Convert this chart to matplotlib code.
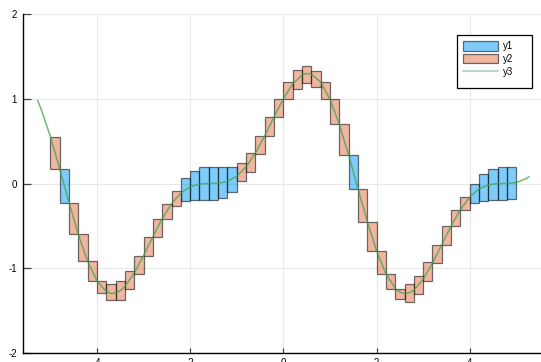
import matplotlib
matplotlib.use("Agg")
import matplotlib.pyplot as plt
from matplotlib.patches import Patch, Rectangle
from matplotlib.lines import Line2D

plt.rcParams['font.family'] = ['Liberation Sans', 'DejaVu Sans']
plt.rcParams['axes.unicode_minus'] = False

# ---- data ----
box_width = 0.2

y1_left = [-4.8, -2.2, -2.0, -1.8, -1.6, -1.4, -1.2, 1.4, 4.0, 4.2, 4.4, 4.6, 4.8]
y1_low = [-0.23, -0.21, -0.20, -0.195, -0.195, -0.17, -0.10, -0.06, -0.23, -0.21, -0.20, -0.20, -0.18]
y1_high = [0.17, 0.06, 0.15, 0.19, 0.20, 0.19, 0.20, 0.34, 0.0, 0.115, 0.17, 0.20, 0.19]

y2_left = [-5.0, -4.6, -4.4, -4.2, -4.0, -3.8, -3.6, -3.4, -3.2, -3.0, -2.8, -2.6, -2.4,
           -1.0, -0.8, -0.6, -0.4, -0.2, 0.0, 0.2, 0.4, 0.6, 0.8, 1.0, 1.2,
           1.6, 1.8, 2.0, 2.2, 2.4, 2.6, 2.8, 3.0, 3.2, 3.4, 3.6, 3.8]
y2_low = [0.17, -0.60, -0.92, -1.15, -1.29, -1.38, -1.37, -1.25, -1.065, -0.86, -0.63, -0.42, -0.27,
          0.035, 0.14, 0.35, 0.56, 0.785, 1.0, 1.12, 1.19, 1.14, 1.0, 0.70, 0.34,
          -0.45, -0.80, -1.07, -1.24, -1.36, -1.395, -1.305, -1.155, -0.94, -0.72, -0.50, -0.31]
y2_high = [0.55, -0.23, -0.60, -0.92, -1.145, -1.19, -1.15, -1.03, -0.855, -0.63, -0.42, -0.24, -0.09,
           0.245, 0.36, 0.56, 0.785, 1.0, 1.195, 1.34, 1.385, 1.33, 1.2, 1.0, 0.70,
           -0.065, -0.45, -0.80, -1.07, -1.24, -1.185, -1.09, -0.93, -0.72, -0.50, -0.31, -0.155]

y3_x = [-5.27, -5.2, -5.0, -4.8, -4.6, -4.4, -4.2, -4.0, -3.8, -3.7, -3.6, -3.5, -3.4, -3.2, -3.0,
        -2.8, -2.6, -2.4, -2.2, -2.0, -1.8, -1.6, -1.4, -1.2, -1.0, -0.8, -0.6, -0.4, -0.2,
        0.0, 0.2, 0.4, 0.5, 0.6, 0.8, 1.0, 1.2, 1.4, 1.6, 1.8, 2.0, 2.2, 2.4, 2.5, 2.6, 2.7,
        2.8, 3.0, 3.2, 3.4, 3.6, 3.8, 4.0, 4.2, 4.4, 4.6, 4.8, 5.0, 5.2, 5.27]
y3_y = [0.978, 0.882, 0.556, 0.175, -0.224, -0.600, -0.918, -1.148, -1.275, -1.297, -1.294, -1.265,
        -1.214, -1.057, -0.850, -0.627, -0.415, -0.239, -0.113, -0.038, -0.006, 0.000, 0.002,
        0.025, 0.086, 0.197, 0.359, 0.562, 0.785, 1.000, 1.175, 1.280, 1.298, 1.291, 1.197,
        0.995, 0.700, 0.337, -0.058, -0.448, -0.795, -1.064, -1.235, -1.281, -1.299, -1.290,
        -1.258, -1.130, -0.940, -0.720, -0.500, -0.307, -0.159, -0.063, -0.015, -0.001, 0.000,
        0.012, 0.055, 0.080]

labels = ['y1', 'y2', 'y3']
x_ticks = [-4, -2, 0, 2, 4]
y_ticks = [-2, -1, 0, 1, 2]

# ---- style ----
c1 = (0.0, 0.605, 0.978)
c2 = (0.889, 0.436, 0.278)
c3 = (0.243, 0.643, 0.304)
fill_alpha = 0.5
edge = (0, 0, 0, 0.55)

W, H = 541, 362
fig = plt.figure(figsize=(W / 100, H / 100), dpi=100)
left_px, right_px, top_px, bot_px = 23.3, 543.4, 14.0, 353.0
ax = fig.add_axes([left_px / W, (H - bot_px) / H, (right_px - left_px) / W, (bot_px - top_px) / H])

ax.set_xlim(-5.58, 5.58)
ax.set_ylim(-2, 2)

ax.bar(y1_left, [h - l for l, h in zip(y1_low, y1_high)], bottom=y1_low, width=box_width,
       align='edge', facecolor=(*c1, fill_alpha), edgecolor=edge, linewidth=0.9, zorder=2)
ax.bar(y2_left, [h - l for l, h in zip(y2_low, y2_high)], bottom=y2_low, width=box_width,
       align='edge', facecolor=(*c2, fill_alpha), edgecolor=edge, linewidth=0.9, zorder=3)
ax.plot(y3_x, y3_y, color=c3, alpha=0.75, linewidth=1.1, zorder=4)

ax.set_xticks(x_ticks)
ax.set_yticks(y_ticks)
ax.set_xticklabels([str(t) for t in x_ticks])
ax.set_yticklabels([str(t) for t in y_ticks])

for s in ['top', 'right']:
    ax.spines[s].set_visible(False)
for s in ['left', 'bottom']:
    ax.spines[s].set_color('black')
    ax.spines[s].set_linewidth(1.0)

ax.tick_params(axis='y', direction='in', length=5.8, width=0.9, color='#444444',
               labelsize=7, pad=4.5, labelcolor='black')
ax.tick_params(axis='x', direction='in', length=3.6, width=0.9, color='#444444',
               labelsize=7, pad=3.6, labelcolor='black')
ax.set_axisbelow(True)
ax.grid(True, color='#e8e8e8', alpha=1.0, linewidth=0.8)

# legend
lx0, ly0, lx1, ly1 = 457.3, 35.0, 531.7, 87.7
frame = Rectangle((lx0 / W, 1 - ly1 / H), (lx1 - lx0) / W, (ly1 - ly0) / H,
                  transform=fig.transFigure, facecolor='white', edgecolor='black',
                  linewidth=0.9, zorder=4)
fig.add_artist(frame)
handles = [Patch(facecolor=(*c1, fill_alpha), edgecolor=edge, linewidth=0.9),
           Patch(facecolor=(*c2, fill_alpha), edgecolor=edge, linewidth=0.9),
           Line2D([0], [0], color=c3, alpha=0.5, linewidth=1.1)]
leg = fig.legend(handles, labels, loc='upper left',
                 bbox_to_anchor=(lx0 / W, 1 - ly0 / H), bbox_transform=fig.transFigure,
                 frameon=False, fontsize=7, borderpad=0.62, borderaxespad=0,
                 handlelength=3.6, handleheight=1.13, labelspacing=0.29,
                 handletextpad=0.5)
leg.set_zorder(6)

fig.savefig('out.png', dpi=100)
